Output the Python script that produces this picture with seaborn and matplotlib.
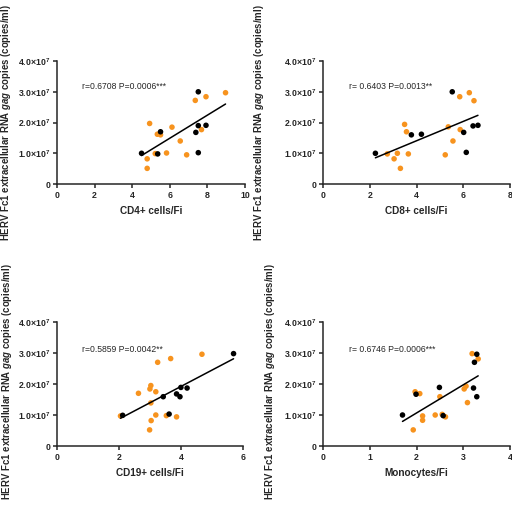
import numpy as np
import pandas as pd
import matplotlib
matplotlib.use("Agg")
import matplotlib.pyplot as plt
import seaborn as sns

# ── Data ────────────────────────────────────────────────────────────────────
# values in copies/ml are given in units of 1e7
cd4_black_x = [7.52, 5.51, 4.50, 5.36, 7.52, 7.93, 7.39, 7.52]
cd4_black_y = [3.00, 1.70, 1.00, 0.98, 1.90, 1.91, 1.68, 1.02]
cd4_orange_x = [8.97, 7.93, 7.36, 4.93, 6.12, 5.34, 5.51, 7.69, 6.56, 5.83, 5.23, 6.90, 4.80, 4.80]
cd4_orange_y = [2.97, 2.84, 2.72, 1.97, 1.85, 1.62, 1.60, 1.77, 1.40, 1.01, 0.99, 0.95, 0.82, 0.51]

cd8_black_x = [5.53, 3.78, 4.21, 6.02, 6.42, 6.63, 6.13, 2.24]
cd8_black_y = [3.00, 1.60, 1.62, 1.68, 1.89, 1.91, 1.03, 1.00]
cd8_orange_x = [5.85, 6.26, 6.46, 3.49, 3.57, 5.36, 5.87, 5.56, 5.23, 3.65, 3.18, 3.04, 3.31, 2.75]
cd8_orange_y = [2.84, 2.97, 2.71, 1.94, 1.70, 1.86, 1.77, 1.40, 0.95, 0.98, 1.00, 0.82, 0.51, 0.98]

cd19_black_x = [5.70, 2.12, 3.43, 4.00, 4.20, 3.86, 3.97, 3.62]
cd19_black_y = [2.98, 0.99, 1.59, 1.89, 1.87, 1.68, 1.59, 1.03]
cd19_orange_x = [4.68, 3.67, 3.25, 3.03, 3.00, 3.19, 2.63, 3.03, 3.19, 3.53, 3.86, 2.05, 3.04, 2.99]
cd19_orange_y = [2.96, 2.82, 2.70, 1.95, 1.84, 1.75, 1.70, 1.39, 1.00, 0.98, 0.94, 0.97, 0.82, 0.52]

mono_black_x = [3.29, 3.24, 2.49, 1.99, 3.22, 3.29, 1.70, 2.57]
mono_black_y = [2.96, 2.70, 1.89, 1.67, 1.87, 1.59, 1.00, 0.98]
mono_orange_x = [3.19, 3.32, 1.97, 2.07, 2.50, 3.02, 3.06, 3.09, 2.40, 2.55, 2.62, 2.13, 2.13, 1.93]
mono_orange_y = [2.98, 2.81, 1.75, 1.69, 1.59, 1.84, 1.93, 1.40, 1.00, 1.02, 0.94, 0.97, 0.83, 0.52]

x_labels = ["CD4+ cells/Fi", "CD8+ cells/Fi", "CD19+ cells/Fi", "Monocytes/Fi"]
x_maxes = [10, 8, 6, 4]
x_steps = [2, 2, 2, 1]
stat_texts = ["r=0.6708 P=0.0006***", "r= 0.6403 P=0.0013**",
              "r=0.5859 P=0.0042**", "r= 0.6746 P=0.0006***"]
y_ticks = [0, 1e7, 2e7, 3e7, 4e7]
y_ticklabels = ["0", "1.0×10$^{7}$", "2.0×10$^{7}$", "3.0×10$^{7}$", "4.0×10$^{7}$"]
y_label = r"HERV Fc1 extracellular RNA $gag$ copies (copies/ml)"

ORANGE = "#F7931E"
BLACK = "#000000"

# ── Style ───────────────────────────────────────────────────────────────────
sns.set_style("ticks")
plt.rcParams.update({
    "font.family": ["Liberation Sans", "DejaVu Sans"],
    "mathtext.fontset": "custom",
    "mathtext.rm": "Liberation Sans:bold",
    "mathtext.it": "Liberation Sans:italic:bold",
    "mathtext.bf": "Liberation Sans:bold",
    "axes.linewidth": 1.1,
    "xtick.major.size": 3,
    "ytick.major.size": 3,
    "xtick.major.width": 1.1,
    "ytick.major.width": 1.1,
})


def build_frame(bx, by, ox, oy):
    df = pd.DataFrame({
        "x": list(ox) + list(bx),
        "y": np.array(list(oy) + list(by)) * 1e7,
        "group": ["orange"] * len(ox) + ["black"] * len(bx),
    })
    return df


panels = [
    build_frame(cd4_black_x, cd4_black_y, cd4_orange_x, cd4_orange_y),
    build_frame(cd8_black_x, cd8_black_y, cd8_orange_x, cd8_orange_y),
    build_frame(cd19_black_x, cd19_black_y, cd19_orange_x, cd19_orange_y),
    build_frame(mono_black_x, mono_black_y, mono_orange_x, mono_orange_y),
]

# axes rectangles in figure fraction
rects = [
    [0.1113, 0.637, 0.367, 0.2426],
    [0.631, 0.637, 0.365, 0.2426],
    [0.1113, 0.1203, 0.363, 0.2446],
    [0.631, 0.1203, 0.365, 0.2446],
]
ylabel_pos = [(-0.232, 0.5), (-0.305, 0.5), (-0.232, 0.52), (-0.245, 0.52)]
stat_pos = [(0.133, 0.79), (0.137, 0.79), (0.134, 0.78), (0.137, 0.78)]

fig = plt.figure(figsize=(5.12, 5.07), dpi=100)

for i, df in enumerate(panels):
    ax = fig.add_axes(rects[i])
    sns.scatterplot(data=df, x="x", y="y", hue="group",
                    palette={"orange": ORANGE, "black": BLACK},
                    s=16, linewidth=0, legend=False, ax=ax, zorder=3)
    sns.regplot(data=df, x="x", y="y", scatter=False, ci=None, truncate=True,
                line_kws={"color": "black", "lw": 1.1, "zorder": 4}, ax=ax)

    ax.set_xlim(0, x_maxes[i])
    ax.set_ylim(0, 4e7)
    ax.set_xticks(np.arange(0, x_maxes[i] + 0.01, x_steps[i]))
    ax.set_yticks(y_ticks)
    ax.set_yticklabels(y_ticklabels)
    ax.tick_params(labelsize=6.3, pad=2)
    for lab in ax.get_xticklabels() + ax.get_yticklabels():
        lab.set_fontweight("bold")

    ax.set_xlabel(x_labels[i], fontsize=7.2, fontweight="bold", labelpad=4)
    ax.set_ylabel(y_label, fontsize=6.9, fontweight="bold")
    ax.yaxis.set_label_coords(*ylabel_pos[i])

    ax.text(stat_pos[i][0], stat_pos[i][1], stat_texts[i], transform=ax.transAxes,
            fontsize=6.2, va="center", ha="left")
    sns.despine(ax=ax)

fig.savefig("out.png", dpi=100, facecolor="white")
